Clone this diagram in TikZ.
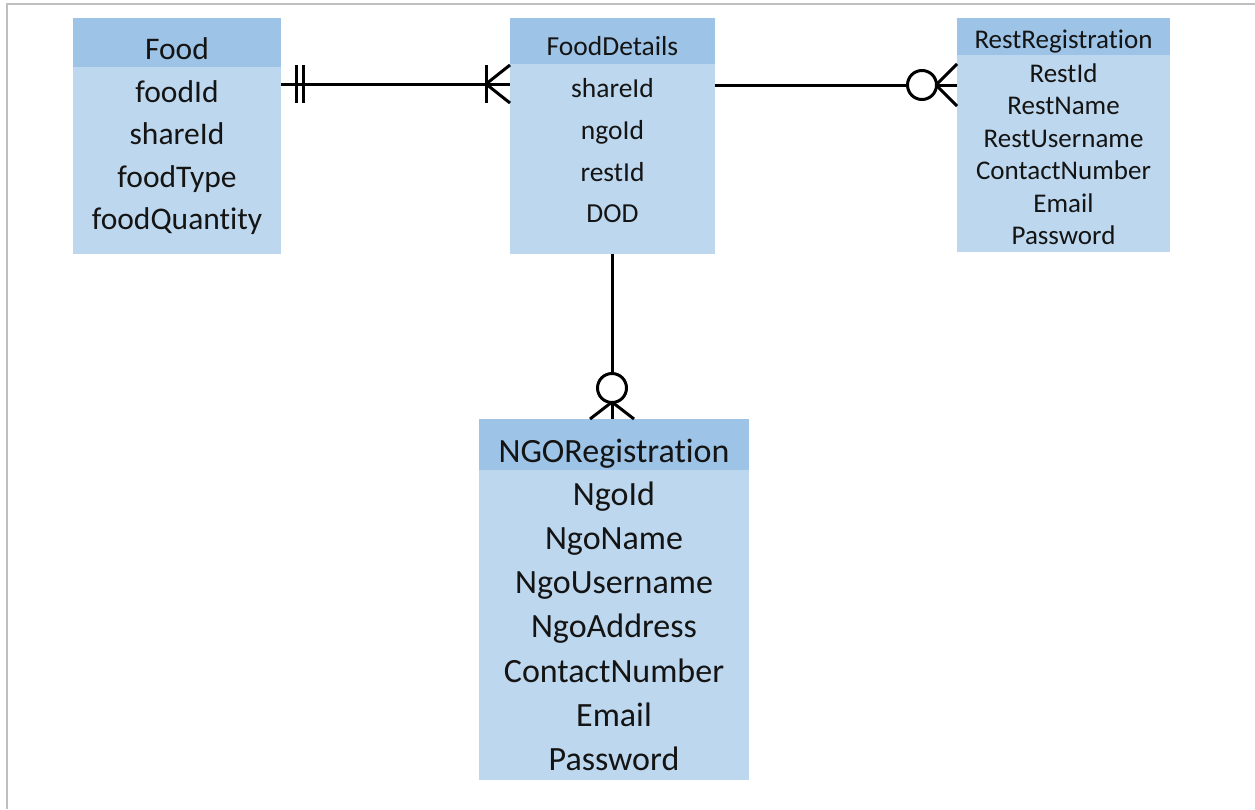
\documentclass[tikz,border=0pt]{standalone}
\usepackage{fontspec}
\setmainfont[Ligatures=NoCommon]{Carlito}
\definecolor{hdrblue}{HTML}{9DC3E6}
\definecolor{bodyblue}{HTML}{BDD7EE}
\definecolor{framegrey}{HTML}{BFBFBF}
\newcommand\foodfont{\fontsize{31.5}{36}\selectfont}
\newcommand\detfont{\fontsize{27.5}{32}\selectfont}
\newcommand\restfont{\fontsize{27}{31}\selectfont}
\newcommand\ngofont{\fontsize{34}{39}\selectfont}

\begin{document}
\begin{tikzpicture}[x=1pt,y=-1pt,
  entity/.style={draw=none, fill=bodyblue, inner sep=0pt, outer sep=0pt, anchor=north west},
  header/.style={draw=none, fill=hdrblue, inner sep=0pt, outer sep=0pt, anchor=north west},
  lbl/.style={inner sep=0pt, anchor=base, text=black!92},
  rel/.style={line width=3pt, black},
  ring/.style={circle, draw=black, line width=3pt, fill=white, minimum size=29pt, inner sep=0pt}]
\useasboundingbox (0,0) rectangle (1255,809);
\fill[white] (0,0) rectangle (1255,809);
\draw[framegrey, line width=2pt] (6.5,809) -- (6.5,3.5) -- (1255,3.5);

% ---- entity boxes ----
\node[entity, minimum width=208pt, minimum height=236pt] (food) at (73,18) {};
\node[header, minimum width=208pt, minimum height=49pt] (foodH) at (73,18) {};
\node[entity, minimum width=205pt, minimum height=236pt] (det) at (510,18) {};
\node[header, minimum width=205pt, minimum height=46pt] (detH) at (510,18) {};
\node[entity, minimum width=213pt, minimum height=234pt] (rest) at (957,18) {};
\node[header, minimum width=213pt, minimum height=37pt] (restH) at (957,18) {};
\node[entity, minimum width=270pt, minimum height=361pt] (ngo) at (479,419) {};
\node[header, minimum width=270pt, minimum height=51pt] (ngoH) at (479,419) {};

% ---- titles and attributes ----
\node[lbl, font=\foodfont] (foodT) at (177,59) {Food};
\foreach \t/\b [count=\i] in {foodId/102, shareId/144, foodType/187, foodQuantity/229}
  \node[lbl, font=\foodfont] (food-\i) at (177,\b) {\t};

\node[lbl, font=\detfont] (detT) at (612.5,55) {FoodDetails};
\foreach \t/\b [count=\i] in {shareId/97, ngoId/139, restId/181, DOD/222}
  \node[lbl, font=\detfont] (det-\i) at (612.5,\b) {\t};

\node[lbl, font=\restfont] (restT) at (1063.5,48) {RestRegistration};
\foreach \t/\b [count=\i] in {RestId/82, RestName/114, RestUsername/147, ContactNumber/179, Email/212, Password/244}
  \node[lbl, font=\restfont] (rest-\i) at (1063.5,\b) {\t};

\node[lbl, font=\ngofont] (ngoT) at (614,462) {NGORegistration};
\foreach \t/\b [count=\i] in {NgoId/505, NgoName/549, NgoUsername/593, NgoAddress/637, ContactNumber/682, Email/726, Password/770}
  \node[lbl, font=\ngofont] (ngo-\i) at (614,\b) {\t};

% ---- Food -- FoodDetails : exactly one to one-or-many ----
\coordinate (r1) at (0,84);
\draw[rel] (food.east |- r1) -- (det.west |- r1);
\draw[rel] ([xshift=15pt]food.east |- r1) ++(0,-19) -- ++(0,38);
\draw[rel] ([xshift=22pt]food.east |- r1) ++(0,-19) -- ++(0,38);
\draw[rel] ([xshift=-24pt]det.west |- r1) ++(0,-19) -- ++(0,38);
\draw[rel] ([xshift=-24pt]det.west |- r1) -- ([yshift=19pt]det.west |- r1);
\draw[rel] ([xshift=-24pt]det.west |- r1) -- ([yshift=-19pt]det.west |- r1);

% ---- FoodDetails -- RestRegistration : zero-or-many ----
\coordinate (r2) at (0,85);
\node[ring] (ringR) at ([xshift=-35pt]rest.west |- r2) {};
\draw[rel] (det.east |- r2) -- (ringR.west);
\draw[rel] (ringR.east) -- (rest.west |- r2);
\draw[rel] ([xshift=-21pt]rest.west |- r2) -- ([yshift=21pt]rest.west |- r2);
\draw[rel] ([xshift=-21pt]rest.west |- r2) -- ([yshift=-21pt]rest.west |- r2);

% ---- FoodDetails -- NGORegistration : zero-or-many ----
\coordinate (c3) at (612,0);
\node[ring] (ringN) at ([yshift=31pt]ngoH.north -| c3) {};
\draw[rel] (det.south -| c3) -- (ringN.north);
\draw[rel] (ringN.south) -- (ngoH.north -| c3);
\draw[rel] ([yshift=17pt]ngoH.north -| c3) -- ([xshift=-22pt]ngoH.north -| c3);
\draw[rel] ([yshift=17pt]ngoH.north -| c3) -- ([xshift=22pt]ngoH.north -| c3);
\end{tikzpicture}
\end{document}
